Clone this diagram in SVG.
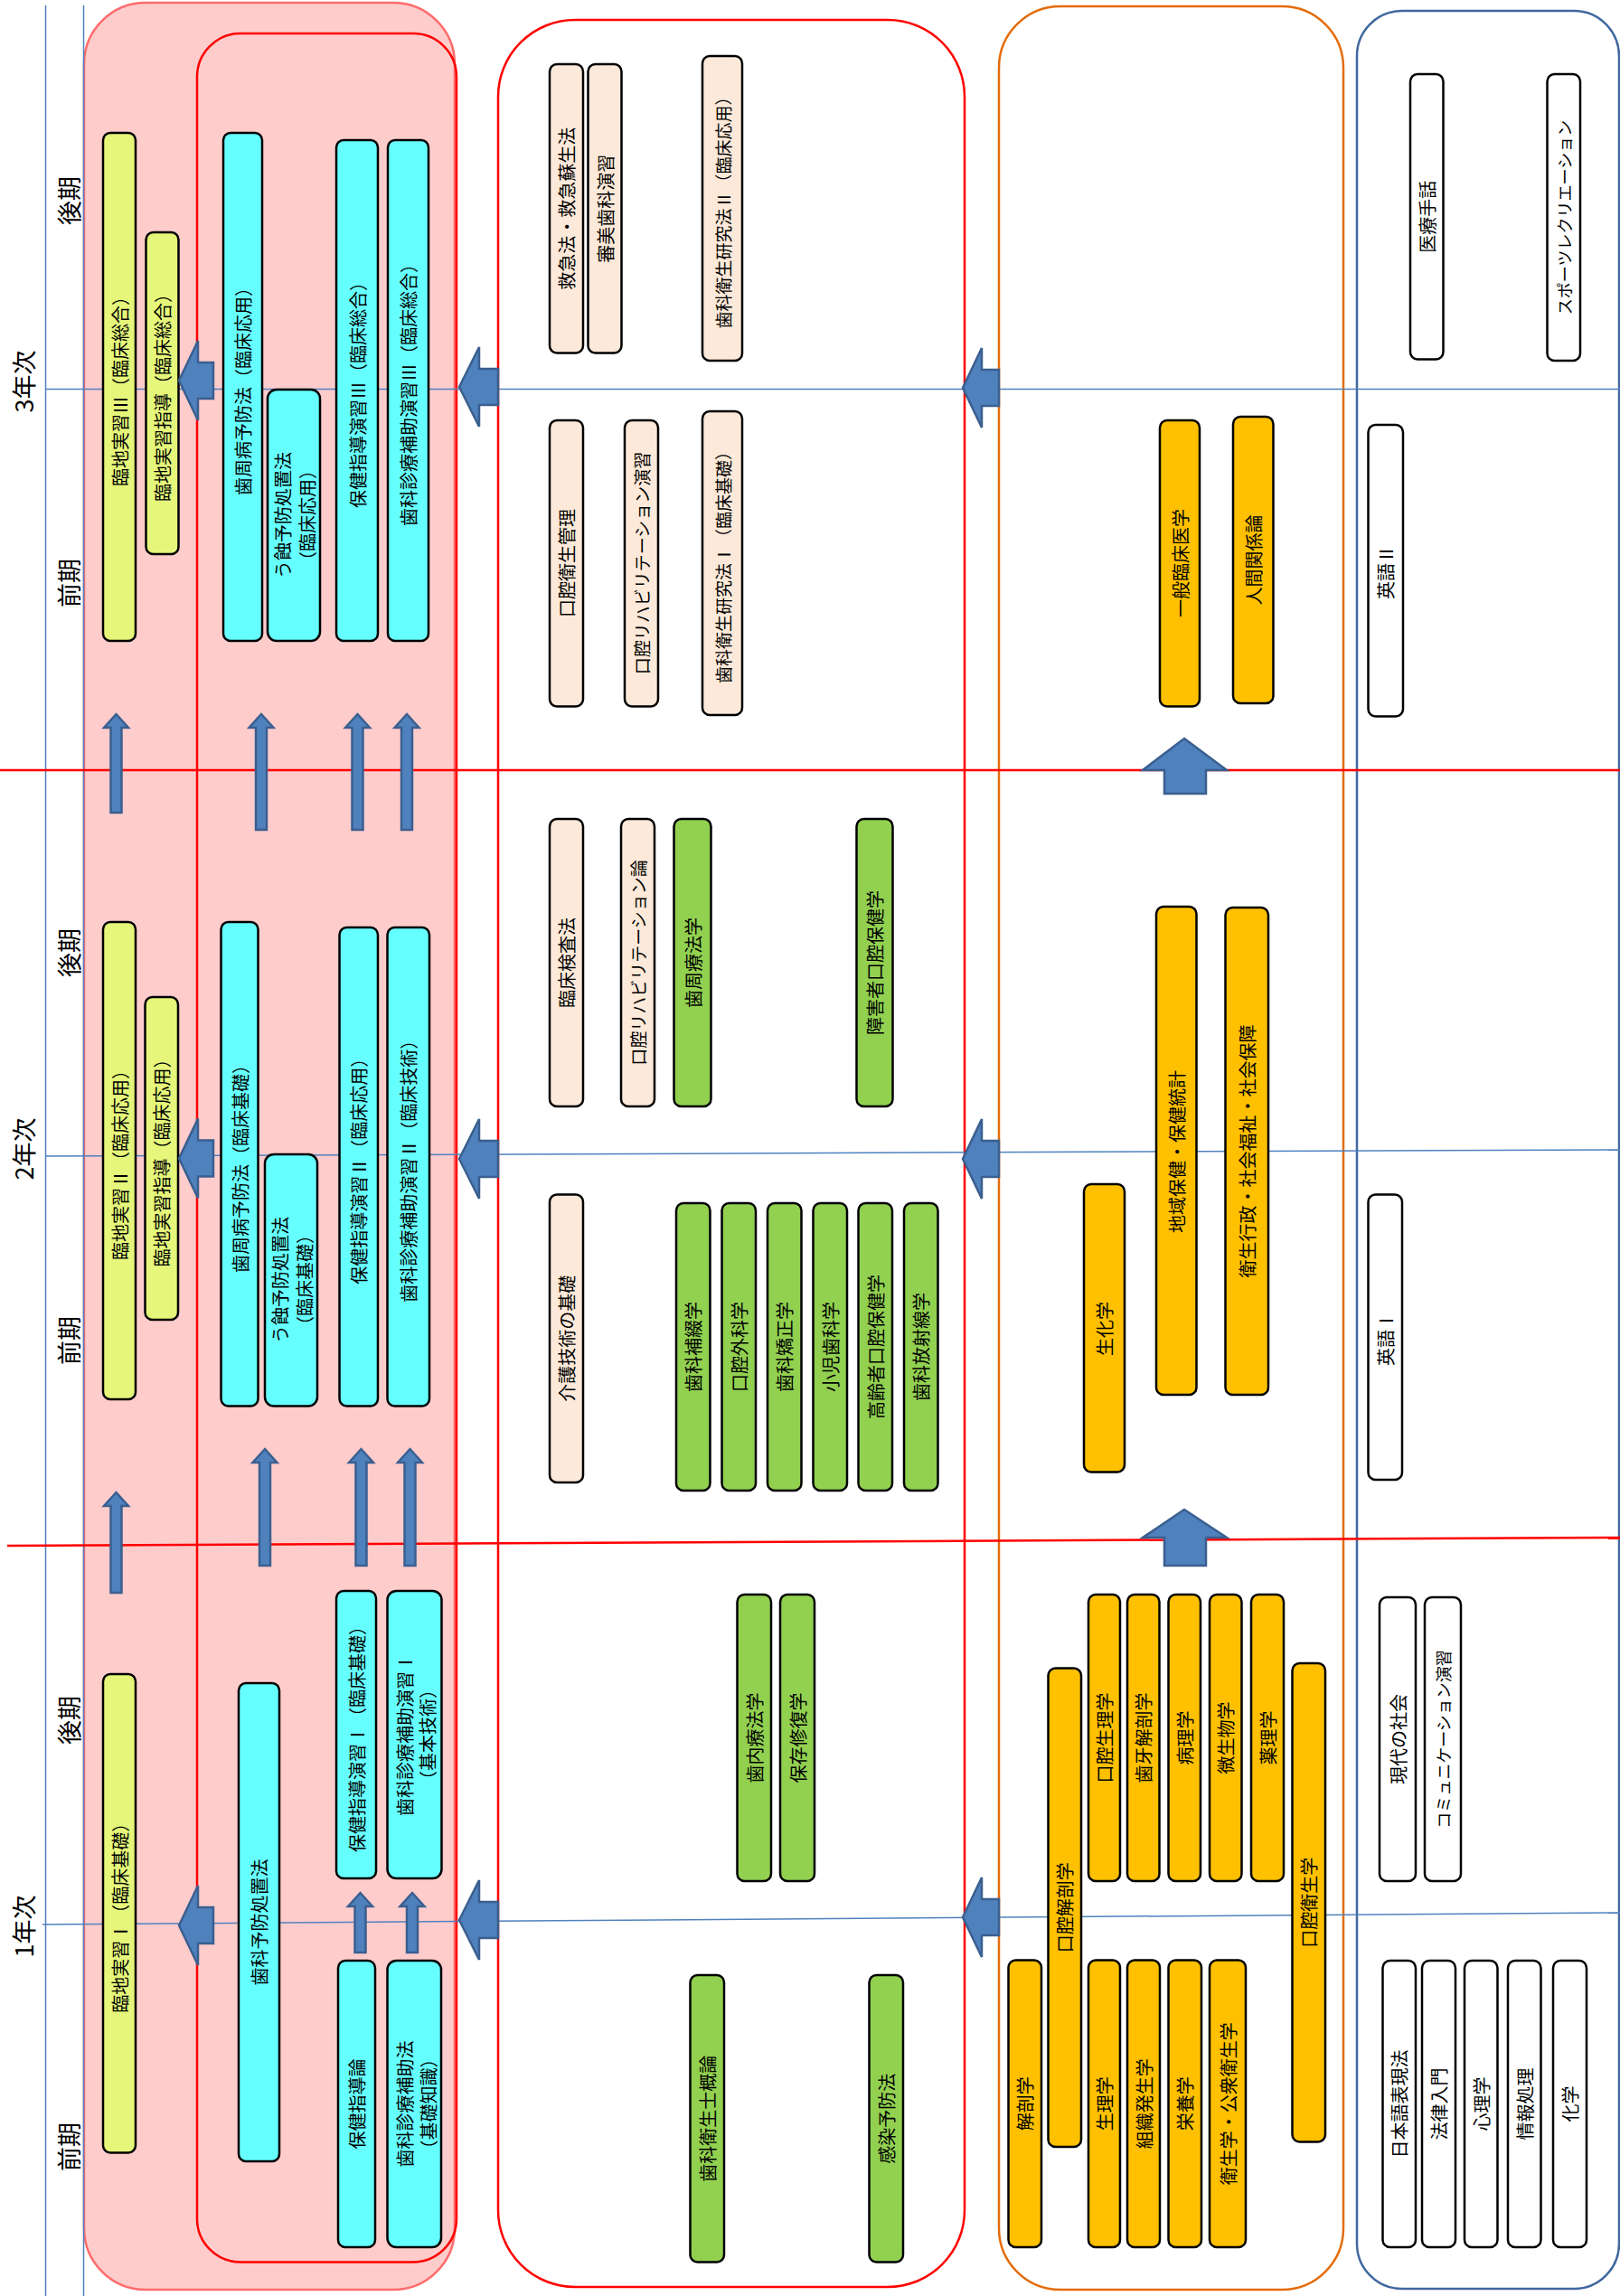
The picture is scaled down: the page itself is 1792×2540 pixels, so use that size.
<svg xmlns="http://www.w3.org/2000/svg" width="1792" height="2540" viewBox="0 0 1792 2540">
<style>
.t{font-family:"Noto Sans CJK JP","Noto Sans",sans-serif;font-size:20px;text-anchor:middle;dominant-baseline:central;fill:#000}
.s19{font-size:19px}.s18{font-size:18px}
.lab{font-family:"Noto Sans CJK JP","Noto Sans",sans-serif;font-size:27px;text-anchor:middle;dominant-baseline:central;fill:#000}
.node rect{stroke:#000;stroke-width:2.5}
.Y{fill:#E5F67A}.C{fill:#66FFFF}.P{fill:#FDE9D9}.G{fill:#92D050}.O{fill:#FFC000}.W{fill:#FFFFFF}
.gl{stroke:#4F81BD;stroke-width:1.5;fill:none}
.rl{stroke:#FF0000;stroke-width:2.5;fill:none}
.arr{fill:#4F81BD;stroke:#3A5F8F;stroke-width:2.5;stroke-linejoin:miter}
</style>
<rect width="1792" height="2540" fill="#FFFFFF"/>
<g id="frames">
<rect id="frame-pink" x="93" y="3" width="410" height="2530" rx="68" fill="#FFCCCC" stroke="#FF6B6B" stroke-width="2.5"/>
<rect id="frame-pink-inner" x="218" y="37" width="287" height="2465.5" rx="48" fill="none" stroke="#FF0000" stroke-width="2.5"/>
<rect id="frame-mid" x="551" y="22" width="516" height="2508" rx="85" fill="#FFFFFF" stroke="#FF0000" stroke-width="2.5"/>
<rect id="frame-orange" x="1105" y="7" width="381" height="2526" rx="68" fill="#FFFFFF" stroke="#E46C0A" stroke-width="2.5"/>
<rect id="frame-blue" x="1501" y="12" width="290" height="2520" rx="50" fill="#FFFFFF" stroke="#41689E" stroke-width="2.5"/>
</g>
<g id="grid">
<line class="gl" x1="50.5" y1="6" x2="50.5" y2="2540"/>
<line class="gl" x1="92.5" y1="6" x2="92.5" y2="2540"/>
<line class="gl" x1="50" y1="430.5" x2="1792" y2="430.5"/>
<line class="gl" x1="50" y1="1279" x2="1792" y2="1272"/>
<line class="gl" x1="47" y1="2129" x2="1792" y2="2116"/>
<line class="rl" x1="0" y1="852" x2="1792" y2="852"/>
<line class="rl" x1="8" y1="1710" x2="1792" y2="1701"/>
</g>
<g id="labels">
<text class="lab" x="25" y="422" transform="rotate(-90 25 422)">3年次</text>
<text class="lab" x="25" y="1271" transform="rotate(-90 25 1271)">2年次</text>
<text class="lab" x="25" y="2131" transform="rotate(-90 25 2131)">1年次</text>
<text class="lab" x="75" y="222" transform="rotate(-90 75 222)">後期</text>
<text class="lab" x="75" y="645" transform="rotate(-90 75 645)">前期</text>
<text class="lab" x="75" y="1054" transform="rotate(-90 75 1054)">後期</text>
<text class="lab" x="75" y="1483" transform="rotate(-90 75 1483)">前期</text>
<text class="lab" x="75" y="1903" transform="rotate(-90 75 1903)">後期</text>
<text class="lab" x="75" y="2375" transform="rotate(-90 75 2375)">前期</text>
</g>
<g id="nodes">
<g id="rinchi3" class="node"><rect class="Y" x="114" y="147" width="36" height="562" rx="8"/><text class="t" x="132" y="428" transform="rotate(-90 132 428)">臨地実習Ⅲ（臨床総合）</text></g>
<g id="shido3" class="node"><rect class="Y" x="161.5" y="257" width="36" height="356" rx="8"/><text class="t" x="179.5" y="435" transform="rotate(-90 179.5 435)">臨地実習指導（臨床総合）</text></g>
<g id="shishu3" class="node"><rect class="C" x="247" y="147" width="43" height="562" rx="8"/><text class="t" x="268.5" y="428" transform="rotate(-90 268.5 428)">歯周病予防法（臨床応用）</text></g>
<g id="ushoku3" class="node"><rect class="C" x="296" y="431" width="58" height="278" rx="10"/><text class="t" x="325.5" y="570" transform="rotate(-90 325.5 570)"><tspan x="325.5" dy="-13.5">う蝕予防処置法</tspan><tspan x="325.5" dy="27">（臨床応用）</tspan></text></g>
<g id="hoken3" class="node"><rect class="C" x="372" y="155" width="46" height="554" rx="8"/><text class="t" x="395" y="432" transform="rotate(-90 395 432)">保健指導演習Ⅲ（臨床総合）</text></g>
<g id="shinryo3" class="node"><rect class="C" x="429" y="155" width="45" height="554" rx="8"/><text class="t" x="451.5" y="432" transform="rotate(-90 451.5 432)">歯科診療補助演習Ⅲ（臨床総合）</text></g>

<g id="rinchi2" class="node"><rect class="Y" x="114" y="1020" width="36" height="528" rx="8"/><text class="t" x="132" y="1284" transform="rotate(-90 132 1284)">臨地実習Ⅱ（臨床応用）</text></g>
<g id="shido2" class="node"><rect class="Y" x="160.5" y="1103" width="36.5" height="357" rx="8"/><text class="t" x="178.75" y="1281.5" transform="rotate(-90 178.75 1281.5)">臨地実習指導（臨床応用）</text></g>
<g id="shishu2" class="node"><rect class="C" x="244.5" y="1020" width="41" height="535.5" rx="8"/><text class="t" x="265" y="1288" transform="rotate(-90 265 1288)">歯周病予防法（臨床基礎）</text></g>
<g id="ushoku2" class="node"><rect class="C" x="293" y="1277" width="58" height="278.5" rx="10"/><text class="t" x="322" y="1416" transform="rotate(-90 322 1416)"><tspan x="322" dy="-13.5">う蝕予防処置法</tspan><tspan x="322" dy="27">（臨床基礎）</tspan></text></g>
<g id="hoken2" class="node"><rect class="C" x="375.5" y="1026" width="42.5" height="529.5" rx="8"/><text class="t" x="396.75" y="1290.75" transform="rotate(-90 396.75 1290.75)">保健指導演習Ⅱ（臨床応用）</text></g>
<g id="shinryo2" class="node"><rect class="C" x="428.5" y="1026" width="46.5" height="529.5" rx="8"/><text class="t" x="451.75" y="1290.75" transform="rotate(-90 451.75 1290.75)">歯科診療補助演習Ⅱ（臨床技術）</text></g>

<g id="rinchi1" class="node"><rect class="Y" x="114" y="1852" width="36" height="529.5" rx="8"/><text class="t" x="132" y="2116.75" transform="rotate(-90 132 2116.75)">臨地実習Ⅰ（臨床基礎）</text></g>
<g id="yobo1" class="node"><rect class="C" x="264" y="1862" width="45" height="529" rx="8"/><text class="t" x="286.5" y="2126.5" transform="rotate(-90 286.5 2126.5)">歯科予防処置法</text></g>
<g id="hoken1" class="node"><rect class="C" x="372" y="1760" width="44" height="318" rx="8"/><text class="t" x="394" y="1919" transform="rotate(-90 394 1919)">保健指導演習Ⅰ（臨床基礎）</text></g>
<g id="shinryo1" class="node"><rect class="C" x="428.5" y="1760" width="60" height="318" rx="10"/><text class="t" x="459.5" y="1919" transform="rotate(-90 459.5 1919)"><tspan x="459.5" dy="-12.75">歯科診療補助演習Ⅰ</tspan><tspan x="459.5" dy="25.5">（基本技術）</tspan></text></g>
<g id="hokenron" class="node"><rect class="C" x="374" y="2169" width="41" height="317" rx="8"/><text class="t" x="394.5" y="2327.5" transform="rotate(-90 394.5 2327.5)">保健指導論</text></g>
<g id="shinryohou" class="node"><rect class="C" x="428.5" y="2169" width="59.5" height="317" rx="10"/><text class="t" x="459.5" y="2327.5" transform="rotate(-90 459.5 2327.5)"><tspan x="459.5" dy="-13">歯科診療補助法</tspan><tspan x="459.5" dy="26">（基礎知識）</tspan></text></g>

<g id="kyukyu" class="node"><rect class="P" x="608" y="71" width="37" height="319.5" rx="8"/><text class="t" x="626.5" y="230.75" transform="rotate(-90 626.5 230.75)">救急法・救急蘇生法</text></g>
<g id="shinbi" class="node"><rect class="P" x="650.5" y="71" width="37" height="319.5" rx="8"/><text class="t" x="669" y="230.75" transform="rotate(-90 669 230.75)">審美歯科演習</text></g>
<g id="kenkyu2" class="node"><rect class="P" x="777" y="62" width="44" height="337" rx="8"/><text class="t s19" x="799" y="230.5" transform="rotate(-90 799 230.5)">歯科衛生研究法Ⅱ（臨床応用）</text></g>
<g id="kanri" class="node"><rect class="P" x="608" y="465" width="37" height="316.5" rx="8"/><text class="t" x="626.5" y="623" transform="rotate(-90 626.5 623)">口腔衛生管理</text></g>
<g id="rehab-en" class="node"><rect class="P" x="691" y="465" width="37" height="316.5" rx="8"/><text class="t s19" x="709.5" y="623" transform="rotate(-90 709.5 623)">口腔リハビリテーション演習</text></g>
<g id="kenkyu1" class="node"><rect class="P" x="777" y="455" width="44" height="336" rx="8"/><text class="t s19" x="799" y="623" transform="rotate(-90 799 623)">歯科衛生研究法Ⅰ（臨床基礎）</text></g>

<g id="kensa" class="node"><rect class="P" x="608" y="906" width="37" height="318" rx="8"/><text class="t" x="626.5" y="1065" transform="rotate(-90 626.5 1065)">臨床検査法</text></g>
<g id="rehab-ron" class="node"><rect class="P" x="687" y="906" width="37" height="318" rx="8"/><text class="t s19" x="705.5" y="1065" transform="rotate(-90 705.5 1065)">口腔リハビリテーション論</text></g>
<g id="shishuryo" class="node"><rect class="G" x="745.5" y="906" width="41" height="318" rx="8"/><text class="t" x="766" y="1065" transform="rotate(-90 766 1065)">歯周療法学</text></g>
<g id="shogai" class="node"><rect class="G" x="947.5" y="906" width="40" height="318" rx="8"/><text class="t" x="967.5" y="1065" transform="rotate(-90 967.5 1065)">障害者口腔保健学</text></g>
<g id="kaigo" class="node"><rect class="P" x="608" y="1321.5" width="37" height="318.5" rx="8"/><text class="t" x="626.5" y="1480.75" transform="rotate(-90 626.5 1480.75)">介護技術の基礎</text></g>
<g id="hotetsu" class="node"><rect class="G" x="748" y="1331" width="37.5" height="318" rx="8"/><text class="t" x="766.75" y="1490" transform="rotate(-90 766.75 1490)">歯科補綴学</text></g>
<g id="geka" class="node"><rect class="G" x="798.5" y="1331" width="37.5" height="318" rx="8"/><text class="t" x="817.25" y="1490" transform="rotate(-90 817.25 1490)">口腔外科学</text></g>
<g id="kyosei" class="node"><rect class="G" x="849" y="1331" width="37.5" height="318" rx="8"/><text class="t" x="867.75" y="1490" transform="rotate(-90 867.75 1490)">歯科矯正学</text></g>
<g id="shoni" class="node"><rect class="G" x="899.5" y="1331" width="37.5" height="318" rx="8"/><text class="t" x="918.25" y="1490" transform="rotate(-90 918.25 1490)">小児歯科学</text></g>
<g id="koreisha" class="node"><rect class="G" x="949.5" y="1331" width="37.5" height="318" rx="8"/><text class="t" x="968.25" y="1490" transform="rotate(-90 968.25 1490)">高齢者口腔保健学</text></g>
<g id="hoshasen" class="node"><rect class="G" x="1000" y="1331" width="37.5" height="318" rx="8"/><text class="t" x="1018.75" y="1490" transform="rotate(-90 1018.75 1490)">歯科放射線学</text></g>

<g id="shinai" class="node"><rect class="G" x="815.5" y="1764" width="37.5" height="317" rx="8"/><text class="t" x="834.25" y="1922.5" transform="rotate(-90 834.25 1922.5)">歯内療法学</text></g>
<g id="hozon" class="node"><rect class="G" x="863" y="1764" width="38" height="317" rx="8"/><text class="t" x="882" y="1922.5" transform="rotate(-90 882 1922.5)">保存修復学</text></g>
<g id="gairon" class="node"><rect class="G" x="763.5" y="2185" width="37.5" height="317.5" rx="8"/><text class="t" x="782.25" y="2343.75" transform="rotate(-90 782.25 2343.75)">歯科衛生士概論</text></g>
<g id="kansen" class="node"><rect class="G" x="961.5" y="2185" width="37.5" height="317.5" rx="8"/><text class="t" x="980.25" y="2343.75" transform="rotate(-90 980.25 2343.75)">感染予防法</text></g>

<g id="ippan" class="node"><rect class="O" x="1283" y="465" width="44" height="316.5" rx="8"/><text class="t" x="1305" y="623" transform="rotate(-90 1305 623)">一般臨床医学</text></g>
<g id="ningen" class="node"><rect class="O" x="1364" y="461" width="44.5" height="317" rx="8"/><text class="t" x="1386.25" y="619.5" transform="rotate(-90 1386.25 619.5)">人間関係論</text></g>
<g id="chiiki" class="node"><rect class="O" x="1279" y="1003" width="44.5" height="540" rx="8"/><text class="t" x="1301.25" y="1274" transform="rotate(-90 1301.25 1274)">地域保健・保健統計</text></g>
<g id="gyosei" class="node"><rect class="O" x="1355.5" y="1004" width="47.5" height="539" rx="8"/><text class="t" x="1379.25" y="1273.5" transform="rotate(-90 1379.25 1273.5)">衛生行政・社会福祉・社会保障</text></g>
<g id="seika" class="node"><rect class="O" x="1199" y="1310" width="45" height="318.5" rx="8"/><text class="t" x="1221.5" y="1470" transform="rotate(-90 1221.5 1470)">生化学</text></g>

<g id="koku-seiri" class="node"><rect class="O" x="1204" y="1764" width="35" height="317" rx="8"/><text class="t" x="1221.5" y="1922.5" transform="rotate(-90 1221.5 1922.5)">口腔生理学</text></g>
<g id="shiga" class="node"><rect class="O" x="1247" y="1764" width="35.5" height="317" rx="8"/><text class="t" x="1264.75" y="1922.5" transform="rotate(-90 1264.75 1922.5)">歯牙解剖学</text></g>
<g id="byori" class="node"><rect class="O" x="1292.5" y="1764" width="35.5" height="317" rx="8"/><text class="t" x="1310.25" y="1922.5" transform="rotate(-90 1310.25 1922.5)">病理学</text></g>
<g id="biseibutsu" class="node"><rect class="O" x="1338" y="1764" width="35.5" height="317" rx="8"/><text class="t" x="1355.75" y="1922.5" transform="rotate(-90 1355.75 1922.5)">微生物学</text></g>
<g id="yakuri" class="node"><rect class="O" x="1384" y="1764" width="36" height="317" rx="8"/><text class="t" x="1402" y="1922.5" transform="rotate(-90 1402 1922.5)">薬理学</text></g>
<g id="koku-kaibo" class="node"><rect class="O" x="1159.5" y="1845.5" width="36.5" height="529.5" rx="8"/><text class="t" x="1177.75" y="2110.25" transform="rotate(-90 1177.75 2110.25)">口腔解剖学</text></g>
<g id="koku-eisei" class="node"><rect class="O" x="1429.5" y="1840" width="36.5" height="529.5" rx="8"/><text class="t" x="1447.75" y="2104.75" transform="rotate(-90 1447.75 2104.75)">口腔衛生学</text></g>
<g id="kaibo" class="node"><rect class="O" x="1115.5" y="2168.5" width="36.5" height="317.5" rx="8"/><text class="t" x="1133.75" y="2327.25" transform="rotate(-90 1133.75 2327.25)">解剖学</text></g>
<g id="seiri" class="node"><rect class="O" x="1204" y="2168.5" width="35" height="317.5" rx="8"/><text class="t" x="1221.5" y="2327.25" transform="rotate(-90 1221.5 2327.25)">生理学</text></g>
<g id="soshiki" class="node"><rect class="O" x="1247" y="2168.5" width="36" height="317.5" rx="8"/><text class="t" x="1265" y="2327.25" transform="rotate(-90 1265 2327.25)">組織発生学</text></g>
<g id="eiyo" class="node"><rect class="O" x="1292.5" y="2168.5" width="36.5" height="317.5" rx="8"/><text class="t" x="1310.75" y="2327.25" transform="rotate(-90 1310.75 2327.25)">栄養学</text></g>
<g id="eiseigaku" class="node"><rect class="O" x="1338" y="2168.5" width="40" height="317.5" rx="8"/><text class="t" x="1358" y="2327.25" transform="rotate(-90 1358 2327.25)">衛生学・公衆衛生学</text></g>

<g id="shuwa" class="node"><rect class="W" x="1560" y="82" width="36.5" height="315.5" rx="8"/><text class="t" x="1578.25" y="239.75" transform="rotate(-90 1578.25 239.75)">医療手話</text></g>
<g id="sports" class="node"><rect class="W" x="1711.5" y="82" width="36.5" height="317" rx="8"/><text class="t s18" x="1729.75" y="240.5" transform="rotate(-90 1729.75 240.5)">スポーツレクリエーション</text></g>
<g id="eigo2" class="node"><rect class="W" x="1513.5" y="470" width="38.5" height="322.5" rx="8"/><text class="t" x="1532.75" y="633" transform="rotate(-90 1532.75 633)">英語Ⅱ</text></g>
<g id="eigo1" class="node"><rect class="W" x="1513.5" y="1321.5" width="37.5" height="315.5" rx="8"/><text class="t" x="1532.25" y="1481" transform="rotate(-90 1532.25 1481)">英語Ⅰ</text></g>
<g id="gendai" class="node"><rect class="W" x="1526" y="1767" width="40" height="314" rx="8"/><text class="t" x="1546" y="1924" transform="rotate(-90 1546 1924)">現代の社会</text></g>
<g id="comm" class="node"><rect class="W" x="1576" y="1767" width="40" height="314" rx="8"/><text class="t s18" x="1596" y="1924" transform="rotate(-90 1596 1924)">コミュニケーション演習</text></g>
<g id="nihongo" class="node"><rect class="W" x="1529.5" y="2169" width="36.5" height="317" rx="8"/><text class="t" x="1547.75" y="2327.5" transform="rotate(-90 1547.75 2327.5)">日本語表現法</text></g>
<g id="horitsu" class="node"><rect class="W" x="1573" y="2169" width="37" height="317" rx="8"/><text class="t" x="1591.5" y="2327.5" transform="rotate(-90 1591.5 2327.5)">法律入門</text></g>
<g id="shinri" class="node"><rect class="W" x="1620" y="2169" width="36.5" height="317" rx="8"/><text class="t" x="1638.25" y="2327.5" transform="rotate(-90 1638.25 2327.5)">心理学</text></g>
<g id="joho" class="node"><rect class="W" x="1668" y="2169" width="36.5" height="317" rx="8"/><text class="t" x="1686.25" y="2327.5" transform="rotate(-90 1686.25 2327.5)">情報処理</text></g>
<g id="kagaku" class="node"><rect class="W" x="1718" y="2169" width="37" height="317" rx="8"/><text class="t" x="1736.5" y="2327.5" transform="rotate(-90 1736.5 2327.5)">化学</text></g>
</g>
<g id="connectors">
<polygon class="arr" points="198,421 219,377 219,401 236,401 236,441 219,441 219,465"/>
<polygon class="arr" points="198,1281.5 219,1237.5 219,1261.5 236,1261.5 236,1301.5 219,1301.5 219,1325.5"/>
<polygon class="arr" points="198,2130 219,2086 219,2110 236,2110 236,2150 219,2150 219,2174"/>
<polygon class="arr" points="508,428 530,384 530,408 551,408 551,448 530,448 530,472"/>
<polygon class="arr" points="508,1282 530,1238 530,1262 551,1262 551,1302 530,1302 530,1326"/>
<polygon class="arr" points="508,2124 530,2080 530,2104 551,2104 551,2144 530,2144 530,2168"/>
<polygon class="arr" points="1065,429 1086,385 1086,409 1105,409 1105,449 1086,449 1086,473"/>
<polygon class="arr" points="1065,1282 1086,1238 1086,1262 1105,1262 1105,1302 1086,1302 1086,1326"/>
<polygon class="arr" points="1065,2121 1086,2077 1086,2101 1105,2101 1105,2141 1086,2141 1086,2165"/>
<polygon class="arr" points="1310,817 1357,852 1334,852 1334,878 1288,878 1288,852 1264,852"/>
<polygon class="arr" points="1310,1670 1357,1701 1334,1701 1334,1732 1288,1732 1288,1701 1264,1701"/>
<polygon class="arr" points="128.5,790 142,805 134.5,805 134.5,899 122.5,899 122.5,805 115,805"/>
<polygon class="arr" points="289,790 302.5,805 295,805 295,918 283,918 283,805 275.5,805"/>
<polygon class="arr" points="395.5,790 409,805 401.5,805 401.5,918 389.5,918 389.5,805 382,805"/>
<polygon class="arr" points="450,790 463.5,805 456,805 456,918 444,918 444,805 436.5,805"/>
<polygon class="arr" points="128.5,1651 142,1666 134.5,1666 134.5,1762 122.5,1762 122.5,1666 115,1666"/>
<polygon class="arr" points="293,1603 306.5,1618 299,1618 299,1732 287,1732 287,1618 279.5,1618"/>
<polygon class="arr" points="399.5,1603 413,1618 405.5,1618 405.5,1732 393.5,1732 393.5,1618 386,1618"/>
<polygon class="arr" points="453.5,1603 467,1618 459.5,1618 459.5,1732 447.5,1732 447.5,1618 440,1618"/>
<polygon class="arr" points="398.5,2094 412,2109 404.5,2109 404.5,2160 392.5,2160 392.5,2109 385,2109"/>
<polygon class="arr" points="456,2094 469.5,2109 462,2109 462,2160 450,2160 450,2109 442.5,2109"/>
</g>
</svg>
